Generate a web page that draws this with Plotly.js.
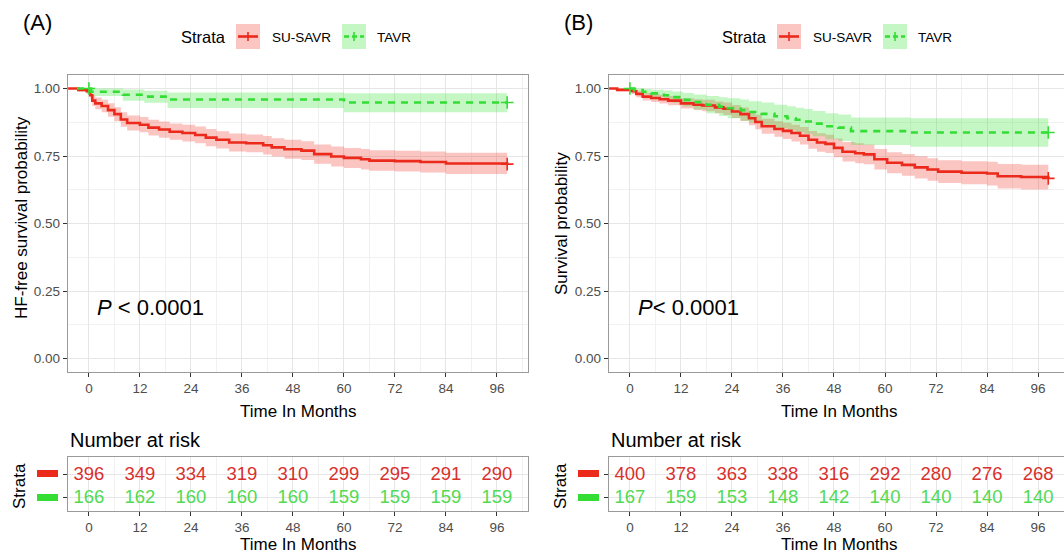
<!DOCTYPE html>
<html>
<head>
<meta charset="utf-8">
<script src="https://cdn.plot.ly/plotly-3.0.1.min.js"></script>
<style>html,body{margin:0;padding:0;background:#fff;}#chart{width:1064px;height:554px;}</style>
</head>
<body>
<div id="chart"></div>
<script>
// ---------------- DATA ----------------
const groups = ['SU-SAVR', 'TAVR'];
const xTicks = [0, 12, 24, 36, 48, 60, 72, 84, 96];

// Panel A: HF-free survival
const tA_savr = [-4.9, -2.5, -0.5, 0.3, 0.8, 1.5, 3, 4.5, 6, 7.5, 9, 12, 14, 16.5, 19, 22, 25, 27.5, 30, 33, 37, 41, 43, 46, 50, 53, 57, 60, 64, 66, 72, 78, 84, 98.4];
const sA_savr = [1.0, 0.995, 0.99, 0.975, 0.955, 0.945, 0.935, 0.92, 0.905, 0.885, 0.872, 0.866, 0.855, 0.848, 0.84, 0.835, 0.828, 0.818, 0.81, 0.80, 0.797, 0.79, 0.782, 0.775, 0.770, 0.757, 0.748, 0.743, 0.738, 0.733, 0.731, 0.728, 0.722, 0.72];
const uA_savr = [1.0, 1.0, 1.0, 0.99, 0.975, 0.967, 0.958, 0.945, 0.931, 0.912, 0.9, 0.894, 0.884, 0.878, 0.87, 0.866, 0.859, 0.85, 0.842, 0.833, 0.83, 0.824, 0.816, 0.81, 0.805, 0.793, 0.785, 0.78, 0.776, 0.771, 0.769, 0.767, 0.762, 0.76];
const lA_savr = [1.0, 0.988, 0.98, 0.96, 0.935, 0.923, 0.912, 0.895, 0.879, 0.858, 0.844, 0.838, 0.826, 0.818, 0.81, 0.804, 0.797, 0.786, 0.778, 0.767, 0.764, 0.756, 0.748, 0.74, 0.735, 0.721, 0.711, 0.706, 0.70, 0.695, 0.693, 0.689, 0.683, 0.681];
const cA_savr = [98.4];

const tA_tavr = [-2.8, 0.5, 8, 13, 18.5, 60, 98.4];
const sA_tavr = [1.0, 0.988, 0.977, 0.97, 0.959, 0.948, 0.948];
const uA_tavr = [1.0, 1.0, 0.996, 0.992, 0.985, 0.982, 0.982];
const lA_tavr = [1.0, 0.972, 0.955, 0.947, 0.928, 0.912, 0.912];
const cA_tavr = [0, 98.4];

// Panel B: overall survival
const tB_savr = [-4.9, -3, 0.5, 1.5, 3, 5, 7, 9, 12, 15, 17, 20, 22, 24, 26, 28, 29.5, 31, 34, 36, 38, 40, 42, 44, 46, 48, 50, 53, 55, 57.5, 60.5, 64, 67, 70, 72.5, 78, 84, 86.5, 92, 98.4];
const sB_savr = [1.0, 0.995, 0.99, 0.98, 0.97, 0.965, 0.96, 0.955, 0.945, 0.94, 0.937, 0.93, 0.925, 0.915, 0.905, 0.89, 0.876, 0.86, 0.85, 0.843, 0.835, 0.825, 0.81, 0.8, 0.795, 0.78, 0.766, 0.76, 0.756, 0.738, 0.725, 0.717, 0.708, 0.7, 0.692, 0.688, 0.685, 0.675, 0.672, 0.667];
const uB_savr = [1.0, 1.0, 1.0, 0.992, 0.984, 0.98, 0.976, 0.972, 0.964, 0.96, 0.958, 0.952, 0.948, 0.939, 0.93, 0.916, 0.903, 0.888, 0.879, 0.873, 0.866, 0.857, 0.843, 0.834, 0.829, 0.815, 0.802, 0.797, 0.793, 0.776, 0.764, 0.757, 0.749, 0.742, 0.734, 0.731, 0.729, 0.72, 0.718, 0.714];
const lB_savr = [1.0, 0.99, 0.98, 0.968, 0.956, 0.95, 0.944, 0.938, 0.926, 0.92, 0.916, 0.908, 0.902, 0.891, 0.88, 0.864, 0.849, 0.832, 0.821, 0.813, 0.804, 0.793, 0.777, 0.766, 0.761, 0.745, 0.73, 0.723, 0.719, 0.70, 0.686, 0.677, 0.667, 0.658, 0.65, 0.645, 0.641, 0.63, 0.626, 0.62];
const cB_savr = [98.4];

const tB_tavr = [0, 1, 3, 5, 8, 10, 12.5, 15, 18, 21, 23, 26, 28, 31, 34, 37, 39, 41, 43, 46, 49, 52, 66, 98.4];
const sB_tavr = [1.0, 0.994, 0.988, 0.982, 0.975, 0.968, 0.958, 0.95, 0.94, 0.933, 0.927, 0.92, 0.913, 0.906, 0.897, 0.89, 0.884, 0.878, 0.87, 0.86, 0.855, 0.842, 0.837, 0.837];
const uB_tavr = [1.0, 1.0, 0.998, 0.995, 0.993, 0.989, 0.983, 0.978, 0.972, 0.968, 0.964, 0.959, 0.953, 0.948, 0.94, 0.934, 0.929, 0.924, 0.917, 0.908, 0.904, 0.893, 0.89, 0.89];
const lB_tavr = [1.0, 0.988, 0.978, 0.969, 0.957, 0.947, 0.933, 0.922, 0.908, 0.898, 0.89, 0.881, 0.873, 0.864, 0.854, 0.846, 0.839, 0.832, 0.823, 0.812, 0.806, 0.791, 0.784, 0.784];
const cB_tavr = [0, 98.4];

// Number at risk
const riskTimes = [0, 12, 24, 36, 48, 60, 72, 84, 96];
const riskA_savr = [396, 349, 334, 319, 310, 299, 295, 291, 290];
const riskA_tavr = [166, 162, 160, 160, 160, 159, 159, 159, 159];
const riskB_savr = [400, 378, 363, 338, 316, 292, 280, 276, 268];
const riskB_tavr = [167, 159, 153, 148, 142, 140, 140, 140, 140];

// ---------------- STYLE ----------------
const W = 1064, H = 554;
const px = x => x / W;
const py = y => 1 - y / H;
const FONT = 'Liberation Sans, Arial, Helvetica, sans-serif';
const RED = '#ec2a1c', GREEN = '#33dd33';
const RED_FILL = 'rgba(240,45,35,0.28)', GREEN_FILL = 'rgba(45,225,45,0.28)';
const RED_TXT = '#d9302c', GREEN_TXT = '#52da52';

function band(t, u, l, fill, xa, ya) {
  return [
    {x: t, y: l, xaxis: xa, yaxis: ya, type: 'scatter', mode: 'lines', line: {shape: 'hv', width: 0, color: fill}, hoverinfo: 'skip'},
    {x: t, y: u, xaxis: xa, yaxis: ya, type: 'scatter', mode: 'lines', fill: 'tonexty', fillcolor: fill, line: {shape: 'hv', width: 0, color: fill}, hoverinfo: 'skip'}
  ];
}
function lineTrace(t, s, color, dash, xa, ya) {
  return {x: t, y: s, xaxis: xa, yaxis: ya, type: 'scatter', mode: 'lines', line: {shape: 'hv', width: 2.6, color: color, dash: dash}};
}
function stepAt(t, s, x) { let v = s[0]; for (let i = 0; i < t.length; i++) { if (t[i] <= x) v = s[i]; } return v; }
function censor(t, s, c, color, xa, ya) {
  return {x: c, y: c.map(x => stepAt(t, s, x)), xaxis: xa, yaxis: ya, type: 'scatter', mode: 'markers',
    marker: {symbol: 'cross-thin', size: 9, color: color, line: {color: color, width: 1.6}}};
}

const traces = [];
traces.push(...band(tA_savr, uA_savr, lA_savr, RED_FILL, 'x', 'y'));
traces.push(...band(tA_tavr, uA_tavr, lA_tavr, GREEN_FILL, 'x', 'y'));
traces.push(lineTrace(tA_savr, sA_savr, RED, 'solid', 'x', 'y'));
traces.push(lineTrace(tA_tavr, sA_tavr, GREEN, '7px,6px', 'x', 'y'));
traces.push(censor(tA_savr, sA_savr, cA_savr, RED, 'x', 'y'));
traces.push(censor(tA_tavr, sA_tavr, cA_tavr, GREEN, 'x', 'y'));
traces.push(...band(tB_savr, uB_savr, lB_savr, RED_FILL, 'x2', 'y2'));
traces.push(...band(tB_tavr, uB_tavr, lB_tavr, GREEN_FILL, 'x2', 'y2'));
traces.push(lineTrace(tB_savr, sB_savr, RED, 'solid', 'x2', 'y2'));
traces.push(lineTrace(tB_tavr, sB_tavr, GREEN, '7px,6px', 'x2', 'y2'));
traces.push(censor(tB_savr, sB_savr, cB_savr, RED, 'x2', 'y2'));
traces.push(censor(tB_tavr, sB_tavr, cB_tavr, GREEN, 'x2', 'y2'));

function riskText(vals, grp, color, xa, ya) {
  return {x: riskTimes, y: riskTimes.map(() => grp), text: vals.map(String), xaxis: xa, yaxis: ya, type: 'scatter', mode: 'text',
    textposition: 'middle center', textfont: {family: FONT, size: 18.5, color: color}, hoverinfo: 'skip'};
}
traces.push(riskText(riskA_savr, groups[0], RED_TXT, 'x3', 'y3'));
traces.push(riskText(riskA_tavr, groups[1], GREEN_TXT, 'x3', 'y3'));
traces.push(riskText(riskB_savr, groups[0], RED_TXT, 'x4', 'y4'));
traces.push(riskText(riskB_tavr, groups[1], GREEN_TXT, 'x4', 'y4'));

const GRID = '#e6e6e6', GRIDMIN = '#f1f1f1', BORDER = '#9a9a9a';
const tickFont = {family: FONT, size: 13.5, color: '#4d4d4d'};
function xAxis(dom, range, mirror) {
  return {domain: dom, range: range, tickmode: 'array', tickvals: xTicks, ticks: 'outside', ticklen: 4, tickwidth: 1, tickcolor: '#333',
    showgrid: true, gridcolor: GRID, gridwidth: 1, minor: {dtick: 6, tick0: 0, showgrid: true, gridcolor: GRIDMIN, gridwidth: 1},
    zeroline: false, showline: true, linecolor: BORDER, linewidth: 1.2, mirror: mirror, tickfont: tickFont, fixedrange: true};
}
function yAxisMain(dom, mirror) {
  return {domain: dom, range: [-0.05, 1.05], tickmode: 'array', tickvals: [0, 0.25, 0.5, 0.75, 1], tickformat: '.2f',
    ticks: 'outside', ticklen: 4, tickwidth: 1, tickcolor: '#333', showgrid: true, gridcolor: GRID, gridwidth: 1,
    minor: {tickmode: 'array', tickvals: [0.125, 0.375, 0.625, 0.875], showgrid: true, gridcolor: GRIDMIN, gridwidth: 1},
    zeroline: false, showline: true, linecolor: BORDER, linewidth: 1.2, mirror: mirror, tickfont: tickFont, fixedrange: true};
}
function yAxisRisk(dom, mirror) {
  return {domain: dom, type: 'category', categoryorder: 'array', categoryarray: [groups[1], groups[0]], range: [-0.565, 1.78],
    showticklabels: false, ticks: 'outside', ticklen: 4, tickwidth: 1, tickcolor: '#333', showgrid: true, gridcolor: GRID, gridwidth: 1,
    zeroline: false, showline: true, linecolor: BORDER, linewidth: 1.2, mirror: mirror, fixedrange: true};
}

const mainY = [py(372), py(75)];
const riskY = [py(511), py(457)];
const domA = [px(68), px(528)];
const domB = [px(609), 1];
const rangeA = [-4.92, 103.3];
const rangeB = [-4.92, 102.1];

const annotations = [];
function ann(text, x, y, size, opts) {
  annotations.push(Object.assign({text: text, xref: 'paper', yref: 'paper', x: px(x), y: py(y), showarrow: false,
    font: {family: FONT, size: size, color: '#000'}, xanchor: 'center', yanchor: 'middle'}, opts || {}));
}
const shapes = [];
function legendBlock(off) {
  ann('Strata', 203 + off, 37, 16.5);
  shapes.push({type: 'rect', xref: 'paper', yref: 'paper', x0: px(236 + off), x1: px(260 + off), y0: py(49), y1: py(24), fillcolor: RED_FILL, line: {width: 0}});
  shapes.push({type: 'line', xref: 'paper', yref: 'paper', x0: px(238 + off), x1: px(258 + off), y0: py(36.5), y1: py(36.5), line: {color: RED, width: 2.6}});
  shapes.push({type: 'line', xref: 'paper', yref: 'paper', x0: px(248 + off), x1: px(248 + off), y0: py(32), y1: py(41), line: {color: RED, width: 1.6}});
  ann('SU-SAVR', 270 + off, 37, 13.5, {xanchor: 'left'});
  shapes.push({type: 'rect', xref: 'paper', yref: 'paper', x0: px(342 + off), x1: px(366 + off), y0: py(49), y1: py(24), fillcolor: GREEN_FILL, line: {width: 0}});
  shapes.push({type: 'line', xref: 'paper', yref: 'paper', x0: px(344 + off), x1: px(364 + off), y0: py(36.5), y1: py(36.5), line: {color: GREEN, width: 2.6, dash: '5px,3px'}});
  shapes.push({type: 'line', xref: 'paper', yref: 'paper', x0: px(354 + off), x1: px(354 + off), y0: py(32), y1: py(41), line: {color: GREEN, width: 1.6}});
  ann('TAVR', 375 + off, 37, 13.5, {xanchor: 'left'});
}
function panelText(off, label, ytitle, ytitleY, ptext) {
  ann(label, 37 + off, 22, 22);
  ann(ytitle, 21 + off, ytitleY, 17, {textangle: -90});
  ann('Time In Months', 298 + off, 411, 17);
  ann(ptext, 95 + off, 307, 22, {xanchor: 'left'});
  ann('Number at risk', 68 + off, 440, 20, {xanchor: 'left'});
  ann('Strata', 19 + off, 486, 17, {textangle: -90});
  ann('Time In Months', 298 + off, 544, 17);
  shapes.push({type: 'rect', xref: 'paper', yref: 'paper', x0: px(37 + off), x1: px(58 + off), y0: py(477), y1: py(470), fillcolor: RED, line: {width: 0}});
  shapes.push({type: 'rect', xref: 'paper', yref: 'paper', x0: px(37 + off), x1: px(58 + off), y0: py(501), y1: py(494), fillcolor: GREEN, line: {width: 0}});
}
legendBlock(0);
legendBlock(541);
panelText(0, '(A)', 'HF-free survival probability', 218, '<i>P</i> < 0.0001');
panelText(541, '(B)', 'Survival probability', 224, '<i>P</i>< 0.0001');

const layout = {
  width: W, height: H, margin: {l: 0, r: 0, t: 0, b: 0}, paper_bgcolor: '#fff', plot_bgcolor: '#fff',
  showlegend: false, font: {family: FONT},
  xaxis: xAxis(domA, rangeA, true), yaxis: yAxisMain(mainY, true),
  xaxis2: xAxis(domB, rangeB, true), yaxis2: yAxisMain(mainY, false),
  xaxis3: xAxis(domA, rangeA, true), yaxis3: yAxisRisk(riskY, true),
  xaxis4: xAxis(domB, rangeB, true), yaxis4: yAxisRisk(riskY, false),
  annotations: annotations, shapes: shapes
};
layout.xaxis.anchor = 'y'; layout.yaxis.anchor = 'x';
layout.xaxis2.anchor = 'y2'; layout.yaxis2.anchor = 'x2';
layout.xaxis3.anchor = 'y3'; layout.yaxis3.anchor = 'x3';
layout.xaxis4.anchor = 'y4'; layout.yaxis4.anchor = 'x4';

Plotly.newPlot('chart', traces, layout, {staticPlot: true, displayModeBar: false});
</script>
</body>
</html>
